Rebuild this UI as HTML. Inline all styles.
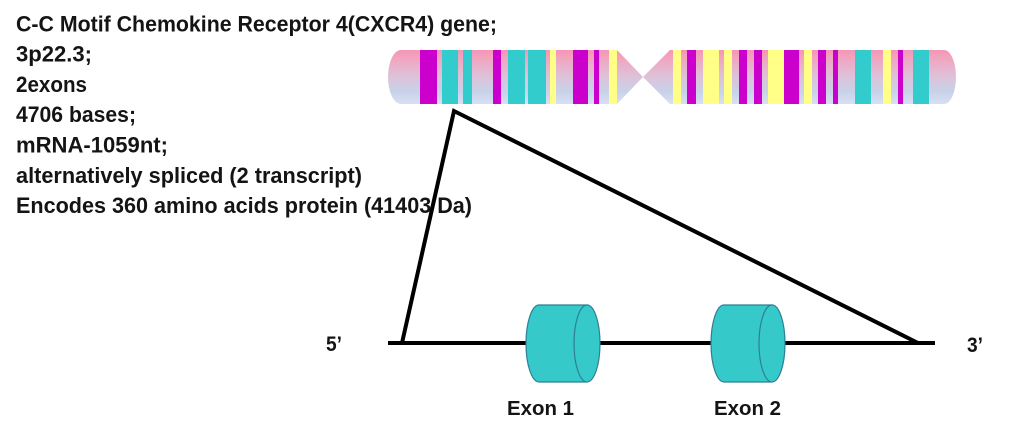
<!DOCTYPE html>
<html>
<head>
<meta charset="utf-8">
<style>
  html,body{margin:0;padding:0;background:#ffffff;}
  svg{display:block;}
  .t{font-family:"Liberation Sans",Arial,sans-serif;font-weight:bold;fill:#141414;}
</style>
</head>
<body>
<svg width="1024" height="438" viewBox="0 0 1024 438" xmlns="http://www.w3.org/2000/svg">
  <defs>
    <linearGradient id="cg" x1="0" y1="0" x2="0" y2="1">
      <stop offset="0" stop-color="#f48cb0"/>
      <stop offset="0.18" stop-color="#f3a2be"/>
      <stop offset="0.5" stop-color="#dcc3da"/>
      <stop offset="0.72" stop-color="#c7d2ea"/>
      <stop offset="1" stop-color="#e1e6f5"/>
    </linearGradient>
    <clipPath id="chr">
      <path d="M401,50 L617,50 L643,77 L670,50 L944,50 A12,27 0 0 1 944,104 L670,104 L643,77 L617,104 L401,104 A13,27 0 0 1 401,50 Z"/>
    </clipPath>
  </defs>

  <!-- Chromosome -->
  <g clip-path="url(#chr)">
    <rect x="380" y="45" width="590" height="65" fill="url(#cg)"/>
    <g>
      <rect x="420" y="45" width="17" height="65" fill="#cc00cc"/>
      <rect x="442" y="45" width="16" height="65" fill="#33cccc"/>
      <rect x="463" y="45" width="9" height="65" fill="#33cccc"/>
      <rect x="493" y="45" width="8" height="65" fill="#cc00cc"/>
      <rect x="508" y="45" width="17" height="65" fill="#33cccc"/>
      <rect x="528" y="45" width="18" height="65" fill="#33cccc"/>
      <rect x="550" y="45" width="6" height="65" fill="#ffff88"/>
      <rect x="573" y="45" width="15" height="65" fill="#cc00cc"/>
      <rect x="594" y="45" width="5" height="65" fill="#cc00cc"/>
      <rect x="609" y="45" width="8" height="65" fill="#ffff88"/>
      <rect x="673" y="45" width="8" height="65" fill="#ffff88"/>
      <rect x="687" y="45" width="9" height="65" fill="#cc00cc"/>
      <rect x="703" y="45" width="16" height="65" fill="#ffff88"/>
      <rect x="724" y="45" width="8" height="65" fill="#ffff88"/>
      <rect x="739" y="45" width="8" height="65" fill="#cc00cc"/>
      <rect x="754" y="45" width="8" height="65" fill="#cc00cc"/>
      <rect x="768" y="45" width="16" height="65" fill="#ffff88"/>
      <rect x="784" y="45" width="15" height="65" fill="#cc00cc"/>
      <rect x="804" y="45" width="8" height="65" fill="#ffff88"/>
      <rect x="818" y="45" width="8" height="65" fill="#cc00cc"/>
      <rect x="833" y="45" width="5" height="65" fill="#cc00cc"/>
      <rect x="855" y="45" width="16" height="65" fill="#33cccc"/>
      <rect x="883" y="45" width="8" height="65" fill="#ffff88"/>
      <rect x="898" y="45" width="5" height="65" fill="#cc00cc"/>
      <rect x="913" y="45" width="16" height="65" fill="#33cccc"/>
    </g>
  </g>

  <!-- Gene line and triangle -->
  <line x1="388" y1="343" x2="935" y2="343" stroke="#000" stroke-width="4"/>
  <polyline points="402,343 454,111 918,343" fill="none" stroke="#000" stroke-width="4" stroke-linejoin="miter" stroke-miterlimit="10"/>

  <!-- Exon 1 -->
  <g stroke="#2e7f95" stroke-width="1.2" fill="#36c9c9">
    <path d="M539,305 L587,305 L587,382 L539,382 A13,38.5 0 0 1 539,305 Z"/>
    <ellipse cx="587" cy="343.5" rx="13" ry="38.5"/>
  </g>
  <!-- Exon 2 -->
  <g stroke="#2e7f95" stroke-width="1.2" fill="#36c9c9">
    <path d="M724,305 L772,305 L772,382 L724,382 A13,38.5 0 0 1 724,305 Z"/>
    <ellipse cx="772" cy="343.5" rx="13" ry="38.5"/>
  </g>

  <!-- Header text -->
  <text class="t" x="16" y="31.3" font-size="22" textLength="481" lengthAdjust="spacingAndGlyphs">C-C Motif Chemokine Receptor 4(CXCR4) gene;</text>
  <text class="t" x="16" y="61.6" font-size="22" textLength="76" lengthAdjust="spacingAndGlyphs">3p22.3;</text>
  <text class="t" x="16" y="91.9" font-size="22" textLength="71" lengthAdjust="spacingAndGlyphs">2exons</text>
  <text class="t" x="16" y="122.2" font-size="22" textLength="120" lengthAdjust="spacingAndGlyphs">4706 bases;</text>
  <text class="t" x="16" y="152.5" font-size="22" textLength="152" lengthAdjust="spacingAndGlyphs">mRNA-1059nt;</text>
  <text class="t" x="16" y="182.8" font-size="22" textLength="346" lengthAdjust="spacingAndGlyphs">alternatively spliced (2 transcript)</text>
  <text class="t" x="16" y="213" font-size="22" textLength="456" lengthAdjust="spacingAndGlyphs">Encodes 360 amino acids protein (41403 Da)</text>

  <!-- Labels -->
  <text class="t" x="326" y="351" font-size="21" textLength="16" lengthAdjust="spacingAndGlyphs">5’</text>
  <text class="t" x="967" y="352" font-size="21" textLength="16" lengthAdjust="spacingAndGlyphs">3’</text>
  <text class="t" x="507" y="415" font-size="20" textLength="67" lengthAdjust="spacingAndGlyphs">Exon 1</text>
  <text class="t" x="714" y="415" font-size="20" textLength="67" lengthAdjust="spacingAndGlyphs">Exon 2</text>
</svg>
</body>
</html>
